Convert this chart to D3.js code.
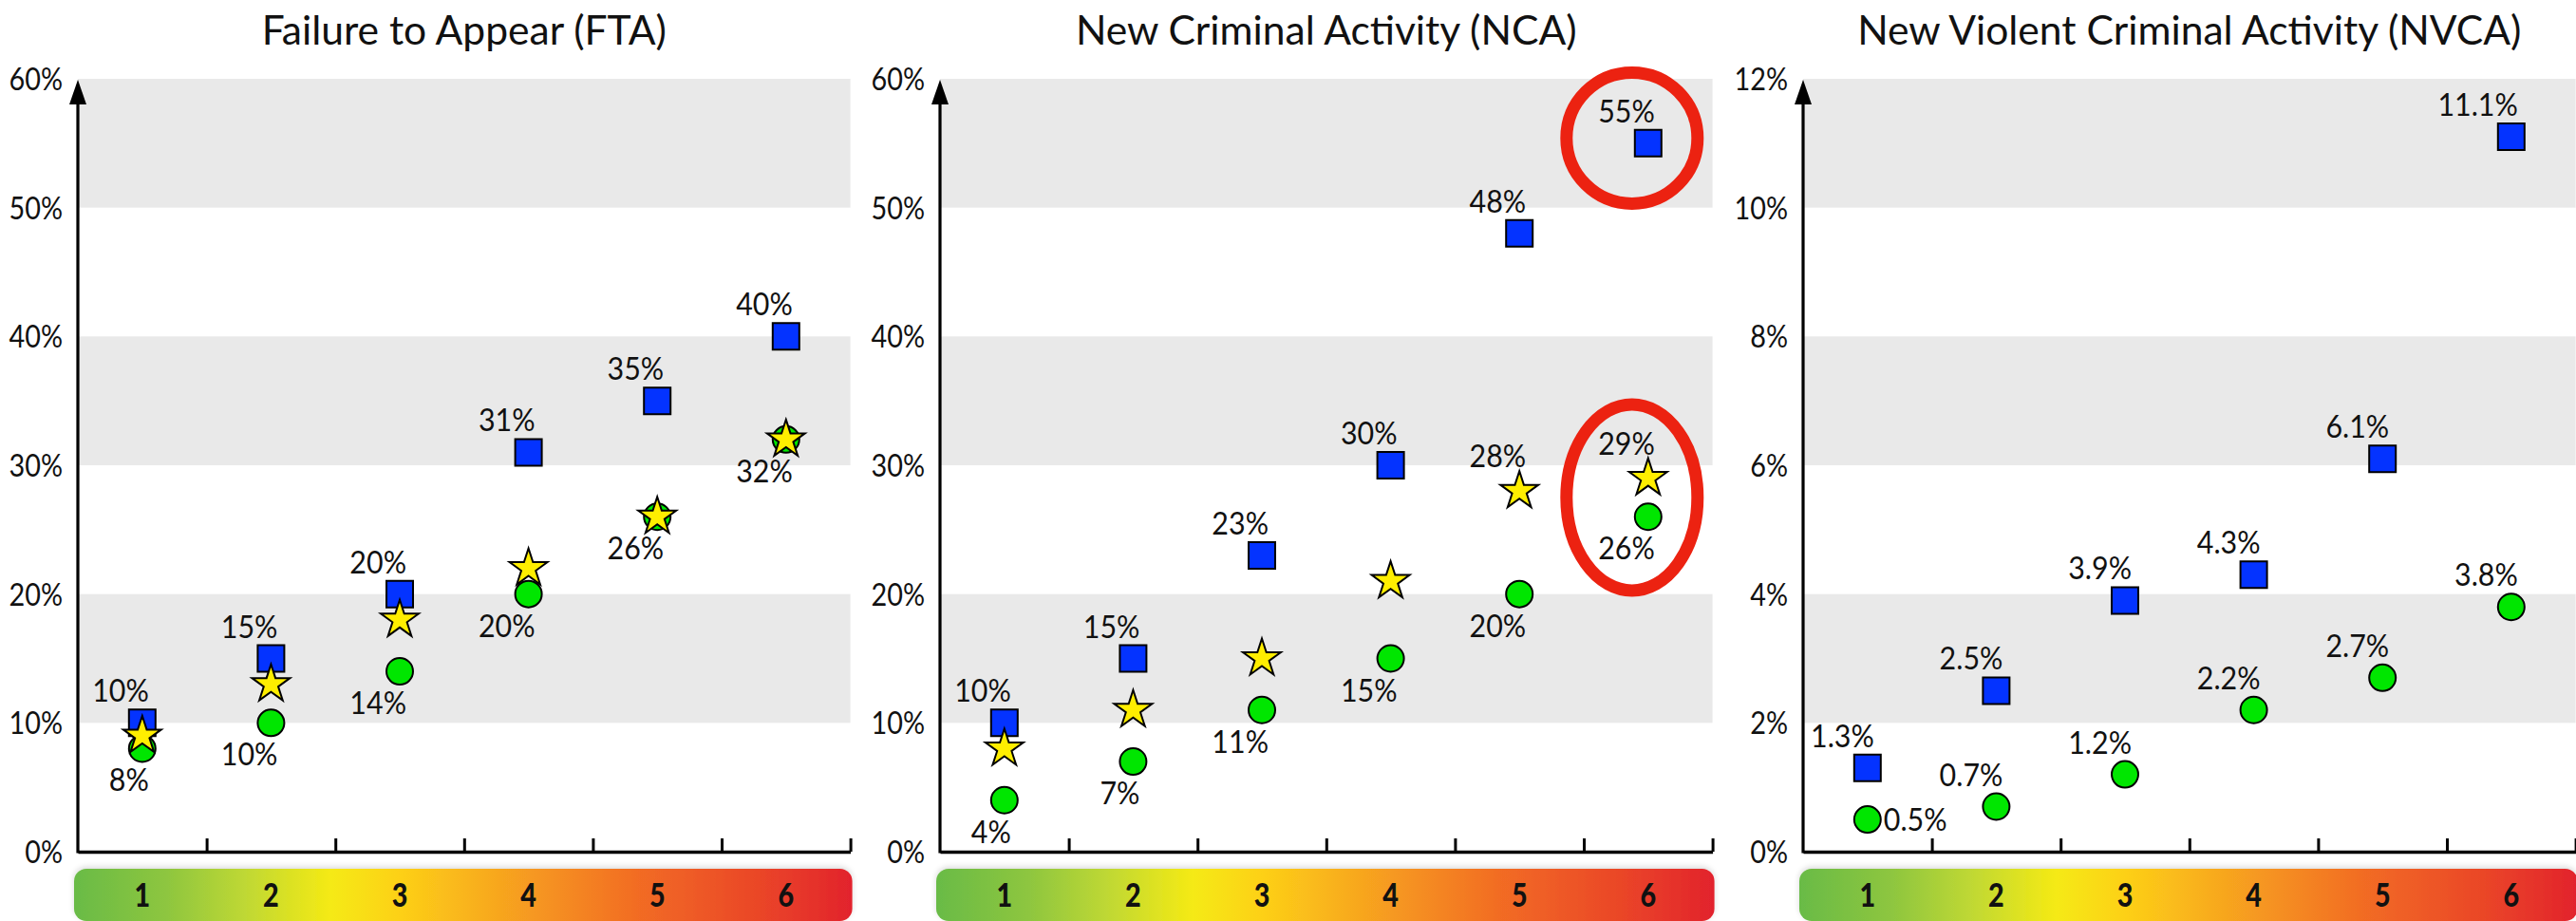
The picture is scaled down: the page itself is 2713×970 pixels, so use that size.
<!DOCTYPE html>
<html>
<head>
<meta charset="utf-8">
<script src="https://cdn.jsdelivr.net/npm/d3@7"></script>
<style>
  html, body { margin: 0; padding: 0; background: #ffffff; }
  svg { display: block; }
  text { font-family: Lato, "Open Sans", sans-serif; fill: #111; }
</style>
</head>
<body>
<script>
// ---------------- data ----------------
const categories = [1, 2, 3, 4, 5, 6];
const panelTitles = ["Failure to Appear (FTA)", "New Criminal Activity (NCA)", "New Violent Criminal Activity (NVCA)"];
const yMaxes = [60, 60, 12];
const ySteps = [10, 10, 2];

const ftaBlue  = [10, 15, 20, 31, 35, 40];
const ftaGreen = [8, 10, 14, 20, 26, 32];
const ftaStar  = [9, 13, 18, 22, 26, 32];

const ncaBlue  = [10, 15, 23, 30, 48, 55];
const ncaGreen = [4, 7, 11, 15, 20, 26];
const ncaStar  = [8, 11, 15, 21, 28, 29];

const nvcaBlue  = [1.3, 2.5, 3.9, 4.3, 6.1, 11.1];
const nvcaGreen = [0.5, 0.7, 1.2, 2.2, 2.7, 3.8];

// label placement per point
const ftaBlueLbl   = ["above", "above", "above", "above", "above", "above"];
const ftaGreenLbl  = ["below", "below", "below", "below", "below", "below"];
const ftaStarLbl   = [null, null, null, null, null, null];
const ncaBlueLbl   = ["above", "above", "above", "above", "above", "above"];
const ncaGreenLbl  = ["below", "below", "below", "below", "below", "below"];
const ncaStarLbl   = [null, null, null, null, "above", "above"];
const nvcaBlueLbl  = ["above", "above", "above", "above", "above", "above"];
const nvcaGreenLbl = ["right", "above", "above", "above", "above", "above"];

// red highlight annotations (NCA panel): category, centre value, radii
const ncaHighlights = [
  { cat: 6, value: 55.4, rx: 69, ry: 69 },
  { cat: 6, value: 27.5, rx: 69, ry: 98 }
];

// ---------------- styling ----------------
const W = 2713, H = 970;
const panelLefts = [82, 990, 1899];
const plotW = 813.6;
const yBottom = 897, yTop = 83;
const BLUE = "#0433ff", GREEN = "#00e600", YELLOW = "#ffee00", BAND = "#e9e9e9", RED = "#ec2211";

const panels = [
  { series: [
      { values: ftaGreen, type: "circle", fill: GREEN, labels: ftaGreenLbl },
      { values: ftaBlue, type: "square", fill: BLUE, labels: ftaBlueLbl },
      { values: ftaStar, type: "star", fill: YELLOW, labels: ftaStarLbl } ], highlights: [] },
  { series: [
      { values: ncaGreen, type: "circle", fill: GREEN, labels: ncaGreenLbl },
      { values: ncaBlue, type: "square", fill: BLUE, labels: ncaBlueLbl },
      { values: ncaStar, type: "star", fill: YELLOW, labels: ncaStarLbl } ], highlights: ncaHighlights },
  { series: [
      { values: nvcaGreen, type: "circle", fill: GREEN, labels: nvcaGreenLbl },
      { values: nvcaBlue, type: "square", fill: BLUE, labels: nvcaBlueLbl } ], highlights: [] }
];

const svg = d3.select("body").append("svg").attr("width", W).attr("height", H);

// gradient for the risk bar
const defs = svg.append("defs");
const grad = defs.append("linearGradient").attr("id", "riskGrad").attr("x1", 0).attr("x2", 1).attr("y1", 0).attr("y2", 0);
[[0, "#69bb46"], [0.12, "#8ec63f"], [0.22, "#bfd834"], [0.33, "#f5ea14"], [0.42, "#fdd017"],
 [0.55, "#f7a51f"], [0.72, "#f26d24"], [0.88, "#ea4628"], [1, "#e2232d"]]
  .forEach(([o, c]) => grad.append("stop").attr("offset", o).attr("stop-color", c));
const shadow = defs.append("filter").attr("id", "barShadow").attr("x", "-5%").attr("y", "-40%").attr("width", "110%").attr("height", "180%");
shadow.append("feGaussianBlur").attr("in", "SourceAlpha").attr("stdDeviation", 3).attr("result", "b");
shadow.append("feOffset").attr("in", "b").attr("dy", -2).attr("result", "o");
shadow.append("feComponentTransfer").attr("in", "o").attr("result", "s")
  .append("feFuncA").attr("type", "linear").attr("slope", 0.15);
const fm = shadow.append("feMerge");
fm.append("feMergeNode").attr("in", "s");
fm.append("feMergeNode").attr("in", "SourceGraphic");

const symbolSizes = { circle: Math.PI * 14 * 14, square: 28 * 28, star: 21 * 21 / 0.8908130915292852 };
const symbolTypes = { circle: d3.symbolCircle, square: d3.symbolSquare, star: d3.symbolStar };

function squeezedText(g, x, y, txt, anchor, size, weight, sx) {
  return g.append("text")
    .attr("transform", `translate(${x},${y}) scale(${sx},1)`)
    .attr("text-anchor", anchor)
    .style("font-size", size + "px")
    .style("font-weight", weight)
    .text(txt);
}

panels.forEach((p, i) => {
  const yMax = yMaxes[i], step = ySteps[i];
  const g = svg.append("g").attr("transform", `translate(${panelLefts[i]},0)`);
  const x = d3.scaleLinear().domain([0.5, 6.5]).range([0, plotW]);
  const y = d3.scaleLinear().domain([0, yMax]).range([yBottom, yTop]);

  // gray bands
  g.selectAll("rect.band").data(d3.range(step, yMax, 2 * step)).join("rect")
    .attr("class", "band")
    .attr("x", 0).attr("width", plotW)
    .attr("y", d => y(d + step)).attr("height", d => y(d) - y(d + step))
    .attr("fill", BAND);

  // title
  squeezedText(g, plotW / 2, 47, panelTitles[i], "middle", 43, 400, 0.99);

  // y axis labels
  const ya = g.append("g").call(d3.axisLeft(y)
    .tickValues(d3.range(0, yMax + step / 2, step))
    .tickSize(0).tickFormat(d => d + "%"));
  ya.select(".domain").remove();
  ya.selectAll(".tick text")
    .attr("x", null).attr("dy", "0.36em")
    .attr("transform", "translate(-16,0) scale(0.9,1)")
    .attr("text-anchor", "end")
    .style("font-family", "Lato, sans-serif")
    .style("font-size", "32px")
    .attr("fill", "#111");

  // y axis line with arrow
  g.append("line").attr("x1", 0).attr("x2", 0)
    .attr("y1", y(0) + 1.5).attr("y2", y(yMax) + 24)
    .attr("stroke", "#000").attr("stroke-width", 3.2);
  g.append("path")
    .attr("d", `M0,${y(yMax) + 1}L-9,${y(yMax) + 27}L9,${y(yMax) + 27}Z`)
    .attr("fill", "#000");

  // x axis with boundary ticks
  const xa = g.append("g").attr("transform", `translate(0,${y(0)})`)
    .call(d3.axisBottom(x).tickValues(categories.map(c => c + 0.5))
      .tickSizeInner(-14).tickSizeOuter(0).tickFormat(""));
  xa.select(".domain").attr("stroke", "#000").attr("stroke-width", 3.6);
  xa.selectAll(".tick line").attr("stroke", "#000").attr("stroke-width", 3);

  // risk colour bar
  g.append("rect")
    .attr("x", x(0.5) - 4).attr("y", 915)
    .attr("width", x(6.5) - x(0.5) + 6).attr("height", 55)
    .attr("rx", 13).attr("ry", 13)
    .attr("fill", "url(#riskGrad)")
    .attr("filter", "url(#barShadow)");
  g.selectAll("text.cat").data(categories).join("text")
    .attr("class", "cat")
    .attr("transform", d => `translate(${x(d)},955) scale(0.82,1)`)
    .attr("text-anchor", "middle")
    .style("font-size", "35px").style("font-weight", 900)
    .attr("fill", "#151515")
    .text(d => d);

  // markers
  p.series.forEach(s => {
    const sym = d3.symbol().type(symbolTypes[s.type]).size(symbolSizes[s.type]);
    g.append("g").selectAll("path").data(s.values).join("path")
      .attr("transform", (d, k) => `translate(${x(categories[k])},${y(d)})`)
      .attr("d", sym)
      .attr("fill", s.fill)
      .attr("stroke", "#000").attr("stroke-width", 2)
      .attr("stroke-linejoin", "miter");
  });

  // labels (drawn after markers)
  p.series.forEach(s => {
    s.values.forEach((d, k) => {
      const pos = s.labels[k];
      if (!pos) return;
      const mx = x(categories[k]), my = y(d);
      const txt = d + "%";
      if (pos === "above") {
        squeezedText(g, mx + 7, my - (s.type === "star" ? 25 : 22), txt, "end", 32, 400, 0.95);
      } else if (pos === "below") {
        squeezedText(g, mx + 7, my + 45, txt, "end", 32, 400, 0.95);
      } else if (pos === "right") {
        squeezedText(g, mx + 17, my + 12, txt, "start", 32, 400, 0.95);
      }
    });
  });

  // red highlight ellipses
  g.selectAll("ellipse.hl").data(p.highlights).join("ellipse")
    .attr("class", "hl")
    .attr("cx", d => x(d.cat) - 17)
    .attr("cy", d => y(d.value))
    .attr("rx", d => d.rx).attr("ry", d => d.ry)
    .attr("fill", "none").attr("stroke", RED).attr("stroke-width", 13);
});
</script>
</body>
</html>
